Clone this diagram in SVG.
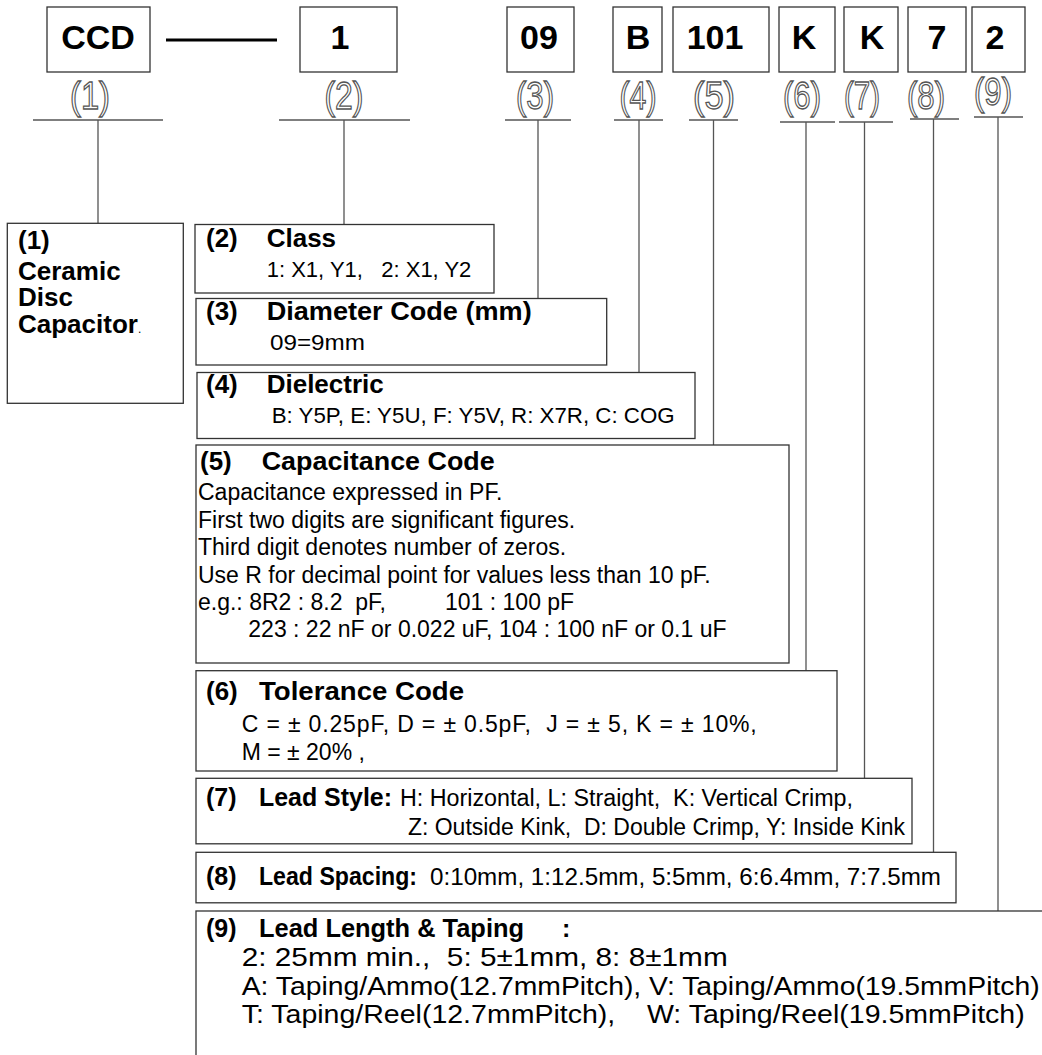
<svg xmlns="http://www.w3.org/2000/svg" width="1042" height="1055" viewBox="0 0 1042 1055" xml:space="preserve">
<style>
text{white-space:pre}
.bx{fill:none;stroke:#333;stroke-width:1.3}
.cn{stroke:#555;stroke-width:1.3;fill:none}
.code{font-family:"Liberation Sans",Arial,sans-serif;font-weight:bold;font-size:34px;fill:#000;text-anchor:middle}
.lbl{font-family:"Liberation Sans",Arial,sans-serif;font-size:38px;fill:#fff;stroke:#555;stroke-width:1.3;text-anchor:middle}
.t{font-family:"Liberation Sans",Arial,sans-serif;font-weight:bold;font-size:26px;fill:#000}
.t2{font-family:"Liberation Sans",Arial,sans-serif;font-weight:bold;font-size:25px;fill:#000}
.b{font-family:"Liberation Sans",Arial,sans-serif;font-size:22px;fill:#000}
.b5{font-family:"Liberation Sans",Arial,sans-serif;font-size:23px;fill:#000}
.b6{font-family:"Liberation Sans",Arial,sans-serif;font-size:23px;fill:#000}
.b9{font-family:"Liberation Sans",Arial,sans-serif;font-size:25px;fill:#000}
</style>
<rect width="1042" height="1055" fill="#fff"/>

<g id="code-boxes">
<g id="c1"><rect class="bx" x="47" y="7" width="103" height="65"/><text class="code" x="98" y="49">CCD</text></g>
<g id="c2"><rect class="bx" x="300" y="7" width="97" height="65"/><text class="code" x="340" y="49">1</text></g>
<g id="c3"><rect class="bx" x="507" y="7" width="67" height="65"/><text class="code" x="539" y="49">09</text></g>
<g id="c4"><rect class="bx" x="613" y="7" width="49" height="65"/><text class="code" x="638" y="49">B</text></g>
<g id="c5"><rect class="bx" x="673" y="7" width="96" height="65"/><text class="code" x="715" y="49">101</text></g>
<g id="c6"><rect class="bx" x="779" y="7" width="56" height="65"/><text class="code" x="804" y="49">K</text></g>
<g id="c7"><rect class="bx" x="844" y="7" width="54" height="65"/><text class="code" x="872" y="49">K</text></g>
<g id="c8"><rect class="bx" x="908" y="7" width="58" height="65"/><text class="code" x="937" y="49">7</text></g>
<g id="c9"><rect class="bx" x="972" y="7" width="53" height="65"/><text class="code" x="995" y="49">2</text></g>
</g>

<g id="labels">
<text class="lbl" x="90" y="109" textLength="40" lengthAdjust="spacingAndGlyphs">(1)</text>
<text class="lbl" x="344" y="109" textLength="39" lengthAdjust="spacingAndGlyphs">(2)</text>
<text class="lbl" x="535" y="109" textLength="38" lengthAdjust="spacingAndGlyphs">(3)</text>
<text class="lbl" x="638" y="109" textLength="37" lengthAdjust="spacingAndGlyphs">(4)</text>
<text class="lbl" x="714" y="109" textLength="42" lengthAdjust="spacingAndGlyphs">(5)</text>
<text class="lbl" x="802" y="109" textLength="38" lengthAdjust="spacingAndGlyphs">(6)</text>
<text class="lbl" x="862" y="109" textLength="36" lengthAdjust="spacingAndGlyphs">(7)</text>
<text class="lbl" x="926" y="109" textLength="38" lengthAdjust="spacingAndGlyphs">(8)</text>
<text class="lbl" x="993" y="105" textLength="38" lengthAdjust="spacingAndGlyphs">(9)</text>
</g>

<g id="connectors">
<line x1="166" y1="40" x2="277" y2="40" stroke="#000" stroke-width="3"/>
<path class="cn" d="M33 120H163M98 120V223.3"/>
<path class="cn" d="M279 120H410M344 120V224.5"/>
<path class="cn" d="M505 120H571M538 120V298.5"/>
<path class="cn" d="M614 120H663M639 120V372.5"/>
<path class="cn" d="M689 120H738M713.5 120V445"/>
<path class="cn" d="M780 122H835M806 122V670.7"/>
<path class="cn" d="M839 122H893M864.5 122V778.3"/>
<path class="cn" d="M910 119H959M933.5 119V852.3"/>
<path class="cn" d="M974 117H1023M998 117V911"/>
</g>

<g id="n1">
<rect class="bx" x="7.3" y="223.3" width="176" height="180"/>
<text class="t" x="18" y="249">(1)</text>
<text class="t" x="18" y="280">Ceramic</text>
<text class="t" x="18" y="306">Disc</text>
<text class="t" x="18" y="333">Capacitor<tspan font-size="12" font-weight="normal">.</tspan></text>
</g>

<g id="n2">
<rect class="bx" x="195" y="224.5" width="299" height="68.5"/>
<text class="t" x="206" y="247">(2)</text>
<text class="t" x="266.7" y="247">Class</text>
<text class="b" x="266.7" y="277">1: X1, Y1,   2: X1, Y2</text>
</g>

<g id="n3">
<rect class="bx" x="196" y="298.5" width="410.7" height="66.5"/>
<text class="t" x="206" y="320">(3)</text>
<text class="t" x="266.7" y="320" textLength="265" lengthAdjust="spacingAndGlyphs">Diameter Code (mm)</text>
<text class="b" x="270" y="350" textLength="95" lengthAdjust="spacingAndGlyphs">09=9mm</text>
</g>

<g id="n4">
<rect class="bx" x="197" y="372.5" width="498" height="66"/>
<text class="t" x="206" y="393">(4)</text>
<text class="t" x="266.7" y="393">Dielectric</text>
<text class="b" x="271.7" y="423" textLength="403" lengthAdjust="spacingAndGlyphs">B: Y5P, E: Y5U, F: Y5V, R: X7R, C: COG</text>
</g>

<g id="n5">
<rect class="bx" x="196" y="445" width="593" height="218"/>
<text class="t" x="200" y="470">(5)</text>
<text class="t" x="261.7" y="470" textLength="233" lengthAdjust="spacingAndGlyphs">Capacitance Code</text>
<text class="b5" x="198" y="500">Capacitance expressed in PF.</text>
<text class="b5" x="198" y="527.5">First two digits are significant figures.</text>
<text class="b5" x="198" y="555">Third digit denotes number of zeros.</text>
<text class="b5" x="198" y="582.5">Use R for decimal point for values less than 10 pF.</text>
<text class="b5" x="198" y="610">e.g.: 8R2 : 8.2  pF,</text>
<text class="b5" x="445" y="610">101 : 100 pF</text>
<text class="b5" x="248.3" y="637">223 : 22 nF or 0.022 uF, 104 : 100 nF or 0.1 uF</text>
</g>

<g id="n6">
<rect class="bx" x="196" y="670.7" width="641" height="100.3"/>
<text class="t" x="206" y="700">(6)</text>
<text class="t" x="259" y="700" textLength="205" lengthAdjust="spacingAndGlyphs">Tolerance Code</text>
<text class="b6" x="241.7" y="732" textLength="515" lengthAdjust="spacing">C = ± 0.25pF, D = ± 0.5pF,  J = ± 5, K = ± 10%,</text>
<text class="b6" x="241.7" y="760">M = ± 20% ,</text>
</g>

<g id="n7">
<rect class="bx" x="196" y="778.3" width="716" height="65.5"/>
<text class="t2" x="206" y="806">(7)</text>
<text class="t2" x="259" y="806" textLength="133" lengthAdjust="spacingAndGlyphs">Lead Style:</text>
<text class="b6" x="400" y="806" textLength="453" lengthAdjust="spacingAndGlyphs">H: Horizontal, L: Straight,  K: Vertical Crimp,</text>
<text class="b6" x="408" y="835" textLength="497" lengthAdjust="spacingAndGlyphs">Z: Outside Kink,  D: Double Crimp, Y: Inside Kink</text>
</g>

<g id="n8">
<rect class="bx" x="196" y="852.3" width="760" height="50.5"/>
<text class="t2" x="206" y="885">(8)</text>
<text class="t2" x="259" y="885" textLength="158" lengthAdjust="spacingAndGlyphs">Lead Spacing:</text>
<text class="b6" x="430" y="885" textLength="511" lengthAdjust="spacingAndGlyphs">0:10mm, 1:12.5mm, 5:5mm, 6:6.4mm, 7:7.5mm</text>
</g>

<g id="n9">
<rect class="bx" x="196" y="911" width="900" height="200"/>
<text class="t2" x="206" y="937">(9)</text>
<text class="t2" x="259" y="937" textLength="265" lengthAdjust="spacingAndGlyphs">Lead Length &amp; Taping</text>
<text class="t2" x="562" y="937">:</text>
<text class="b9" x="241.7" y="966" textLength="486" lengthAdjust="spacingAndGlyphs">2: 25mm min.,  5: 5±1mm, 8: 8±1mm</text>
<text class="b9" x="241.7" y="995" textLength="798" lengthAdjust="spacingAndGlyphs">A: Taping/Ammo(12.7mmPitch), V: Taping/Ammo(19.5mmPitch)</text>
<text class="b9" x="241.7" y="1023" textLength="783" lengthAdjust="spacingAndGlyphs">T: Taping/Reel(12.7mmPitch),    W: Taping/Reel(19.5mmPitch)</text>
</g>
</svg>
